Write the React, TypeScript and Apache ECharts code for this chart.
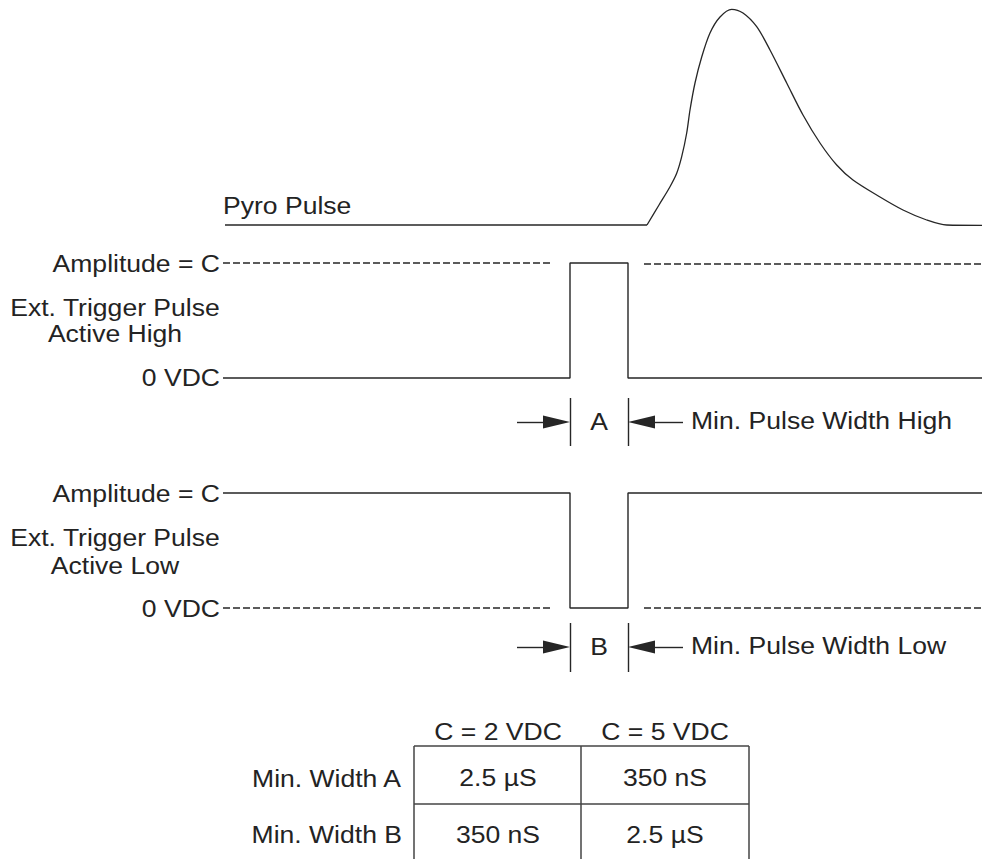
import React, { useEffect, useRef } from "react";
import * as echarts from "echarts";

// Diagram coordinate system: x = time (arbitrary units), y = vertical level (inverted)
const pyroBaseline: number[][] = [[225, 225], [647, 225]];
const pyroCurve: number[][] = [
  [647, 225], [659, 205], [670, 186.7], [676.7, 173.3], [681.7, 156.7],
  [686.7, 133], [690, 110], [695, 83], [701.7, 57], [710, 33], [720, 17],
  [731.7, 9.3], [743, 13], [756.7, 26.7], [770, 50], [786.7, 83], [803, 115],
  [820, 143], [836.7, 165], [853, 180], [880, 197], [903, 210], [926.7, 220],
  [946.7, 225], [982, 225.3],
];

const highSolid: number[][] = [[223, 378], [570, 378], [570, 263], [628, 263], [628, 378], [982, 378]];
const highDashLeft: number[][] = [[223, 263], [553, 263]];
const highDashRight: number[][] = [[644, 264], [982, 264]];

const lowSolid: number[][] = [[223, 493], [570, 493], [570, 608], [628, 608], [628, 493], [982, 493]];
const lowDashLeft: number[][] = [[223, 608], [553, 608]];
const lowDashRight: number[][] = [[644, 608], [982, 608]];

const dimensionLines: number[][][] = [
  [[570, 398], [570, 446]], [[628, 398], [628, 446]],
  [[517, 422], [546, 422]], [[654, 422], [683, 422]],
  [[570, 623], [570, 672]], [[628, 623], [628, 672]],
  [[517, 647], [546, 647]], [[654, 647], [683, 647]],
];
// [tip x, y, direction (+1 right, -1 left)]
const arrowHeads: number[][] = [
  [570, 422, 1], [628, 422, -1], [570, 647, 1], [628, 647, -1],
];

const tableLines: number[][][] = [
  [[414, 746], [749, 746]], [[414, 804], [749, 804]],
  [[414, 746], [414, 859]], [[581, 746], [581, 859]], [[749, 746], [749, 859]],
];

const labelTexts: string[] = [
  "Pyro Pulse",
  "Amplitude = C", "Ext. Trigger Pulse", "Active High", "0 VDC",
  "A", "Min. Pulse Width High",
  "Amplitude = C", "Ext. Trigger Pulse", "Active Low", "0 VDC",
  "B", "Min. Pulse Width Low",
  "C = 2 VDC", "C = 5 VDC", "Min. Width A", "Min. Width B",
  "2.5 µS", "350 nS", "350 nS", "2.5 µS",
];
const labelAnchors: number[][] = [
  [223, 206],
  [220, 264], [115, 308], [115, 334], [220, 378],
  [599, 422], [691, 421],
  [220, 494], [115, 538], [115, 566], [220, 609],
  [599, 647], [691, 646],
  [498, 732], [665, 732], [401, 779], [402, 835],
  [498, 778], [665, 778], [498, 835], [665, 835],
];
const labelAligns: string[] = [
  "left",
  "right", "center", "center", "right",
  "center", "left",
  "right", "center", "center", "right",
  "center", "left",
  "center", "center", "right", "right",
  "center", "center", "center", "center",
];

const INK = "#262626";

export default function App() {
  const ref = useRef<HTMLDivElement>(null);
  useEffect(() => {
    if (!ref.current) return;
    const chart = echarts.init(ref.current, undefined, { renderer: "svg" });
    const lineSeries = (data: number[][], dashed: boolean, width = 1.4) => ({
      type: "line",
      data,
      symbol: "none",
      silent: true,
      lineStyle: { color: INK, width, type: dashed ? [7, 3] : "solid" },
    });
    chart.setOption({
      animation: false,
      backgroundColor: "#ffffff",
      grid: { left: 0, right: 0, top: 0, bottom: 0 },
      xAxis: { type: "value", min: 0, max: 982, show: false },
      yAxis: { type: "value", min: 0, max: 859, inverse: true, show: false },
      series: [
        lineSeries(pyroBaseline, false, 1.3),
        { ...lineSeries(pyroCurve, false, 1.3), smooth: 0.3 },
        lineSeries(highSolid, false),
        lineSeries(highDashLeft, true, 1.3),
        lineSeries(highDashRight, true, 1.3),
        lineSeries(lowSolid, false),
        lineSeries(lowDashLeft, true, 1.3),
        lineSeries(lowDashRight, true, 1.3),
        {
          type: "lines",
          coordinateSystem: "cartesian2d",
          silent: true,
          lineStyle: { color: INK, width: 1.4, opacity: 1 },
          data: dimensionLines.map((c) => ({ coords: c })),
        },
        {
          type: "lines",
          coordinateSystem: "cartesian2d",
          silent: true,
          lineStyle: { color: "#444444", width: 1.5, opacity: 1 },
          data: tableLines.map((c) => ({ coords: c })),
        },
        {
          type: "custom",
          coordinateSystem: "cartesian2d",
          silent: true,
          data: arrowHeads,
          renderItem: (params: any, api: any) => {
            const p = api.coord([api.value(0), api.value(1)]);
            const d = api.value(2);
            return {
              type: "polygon",
              shape: {
                points: [
                  [p[0], p[1]],
                  [p[0] - d * 27, p[1] - 6.5],
                  [p[0] - d * 27, p[1] + 6.5],
                ],
              },
              style: { fill: INK },
            };
          },
        },
        {
          type: "custom",
          coordinateSystem: "cartesian2d",
          silent: true,
          data: labelAnchors,
          renderItem: (params: any, api: any) => {
            const i = params.dataIndex;
            const p = api.coord([api.value(0), api.value(1)]);
            return {
              type: "text",
              x: p[0],
              y: p[1],
              scaleX: 1.13,
              style: {
                text: labelTexts[i],
                fill: "#232323",
                fontSize: 23.5,
                fontFamily: "'Liberation Sans', Arial, sans-serif",
                align: labelAligns[i],
                verticalAlign: "middle",
              },
            };
          },
        },
      ],
    });
    return () => chart.dispose();
  }, []);
  return (
    <div
      ref={ref}
      style={{ position: "fixed", left: 0, top: 0, width: 982, height: 859 }}
    />
  );
}
